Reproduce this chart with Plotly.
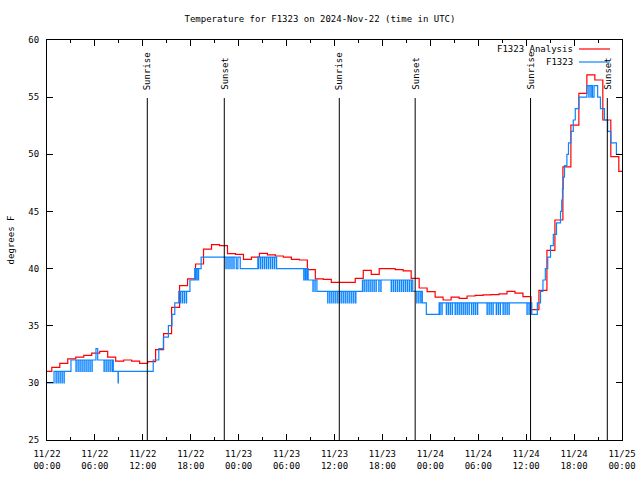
import plotly.graph_objects as go

TITLE = "Temperature for F1323 on 2024-Nov-22 (time in UTC)"
Y_TITLE = "degrees F"

# x axis: hours since 2024-11-22 00:00 UTC
tick_hours = [0, 6, 12, 18, 24, 30, 36, 42, 48, 54, 60, 66, 72]
tick_labels = ["11/22<br>00:00", "11/22<br>06:00", "11/22<br>12:00", "11/22<br>18:00",
               "11/23<br>00:00", "11/23<br>06:00", "11/23<br>12:00", "11/23<br>18:00",
               "11/24<br>00:00", "11/24<br>06:00", "11/24<br>12:00", "11/24<br>18:00",
               "11/25<br>00:00"]

# Sunrise / sunset times (hours)
sun_hours = [12.56, 22.2, 36.6, 46.1, 60.55, 70.16]
sun_labels = ["Sunrise", "Sunset", "Sunrise", "Sunset", "Sunrise", "Sunset"]

# F1323 Analysis: hourly values, first value valid from 23:36 on 11/21
analysis_first_hour = -0.4
analysis_values = [
    31.0, 31.35, 31.7, 32.1, 32.25, 32.4, 32.6, 32.75, 32.25, 31.9,
    32.0, 31.9, 31.7, 31.85, 32.9, 34.3, 36.6, 38.5, 39.1, 40.4,
    41.7, 42.1, 42.0, 41.3, 41.25, 40.8, 41.0, 41.33, 41.2, 41.1,
    41.0, 40.8, 40.75, 39.9, 39.1, 39.05, 38.8, 38.8, 38.8, 39.15,
    39.85, 39.5, 40.0, 40.0, 39.9, 39.8, 39.15, 38.3, 37.98, 37.5,
    37.25, 37.5, 37.4, 37.6, 37.65, 37.7, 37.72, 37.78, 38.0, 37.85,
    37.55, 36.4, 38.1, 41.6, 44.25, 48.9, 52.56, 55.33, 56.94, 56.5,
    53.0, 49.8, 48.5, 48.5,
]

# F1323 observations: level changes (hour, degF)
obs_level_hours = [0.0, 0.88, 3.0, 6.13, 6.35, 8.3, 13.3, 14.0, 14.57, 15.2,
                   15.65, 16.0, 16.5, 17.9, 18.5, 19.3, 23.7, 23.9, 24.2, 26.4,
                   28.75, 32.7, 33.8, 39.5, 45.8, 47.0, 47.5, 49.1, 60.7, 61.4,
                   61.8, 62.1, 62.4, 62.7, 63.05, 63.4, 63.8, 64.3, 64.45, 64.55,
                   64.65, 64.8, 65.1, 65.3, 65.6, 65.9, 66.15, 66.6, 67.6, 68.3,
                   68.5, 68.95, 69.3, 69.8, 70.2, 70.6, 71.3, 71.7]
obs_level_values = [30, 31, 32, 33, 32, 31, 32, 33, 34, 35,
                    36, 37, 38, 39, 40, 41, 40, 41, 40, 41,
                    40, 39, 38, 39, 38, 37, 36, 37, 36, 37,
                    38, 39, 40, 41, 42, 43, 44, 45, 46, 47,
                    48, 49, 50, 51, 52, 53, 54, 55, 56, 55,
                    56, 55, 54, 53, 52, 51, 50, 50]

# single-reading dips (hour, degF)
obs_dip_hours = [
    1.13, 1.38, 1.63, 1.88, 2.13,
    3.63, 3.88, 4.13, 4.38, 4.63, 4.88, 5.13, 5.38, 5.63,
    7.14, 7.39, 7.64, 7.89, 8.14,
    8.9,
    16.7, 16.95, 17.2, 17.45,
    18.55, 18.75, 18.95,
    22.4, 22.65, 22.9, 23.15, 23.4,
    26.5, 26.75, 27.0, 27.25, 27.5, 27.75, 28.0, 28.25, 28.5,
    32.15, 32.35, 32.55,
    33.3, 33.55,
    35.15, 35.4, 35.65, 35.9, 36.15, 36.4, 36.65, 36.9, 37.15, 37.4, 37.65, 37.9, 38.15, 38.4, 38.65,
    39.7, 39.95, 40.2, 40.45, 40.7, 40.95, 41.2,
    41.55, 41.8,
    43.1, 43.35, 43.6, 43.85, 44.1, 44.35, 44.6, 44.85, 45.1, 45.35, 45.6,
    46.3, 46.55, 46.8,
    49.2, 49.45,
    50.0, 50.25, 50.5, 50.75,
    51.1, 51.35, 51.6, 51.85,
    52.1, 52.35, 52.6, 52.85,
    53.15, 53.4, 53.65, 53.9,
    55.1, 55.35, 55.6, 55.85,
    56.25, 56.5, 56.75,
    57.1, 57.35, 57.6, 57.85,
    60.1, 60.35, 60.6,
    67.85, 68.1,
]
obs_dip_values = (
    [30] * 5 + [31] * 9 + [31] * 5 + [30] + [37] * 4 + [39] * 3 + [40] * 5 + [40] * 9
    + [39] * 3 + [38] * 2 + [37] * 15 + [38] * 7 + [38] * 2 + [38] * 11 + [37] * 3
    + [36] * 2 + [36] * 4 + [36] * 4 + [36] * 4 + [36] * 4 + [36] * 4 + [36] * 3 + [36] * 4
    + [36] * 3 + [55] * 2
)
reading_interval_h = 0.03

RED = "#ff0000"
BLUE = "#0a84ff"
FONT = "DejaVu Sans Mono"
FS = 9

# ---- build series ----
analysis_hours = [analysis_first_hour + i for i in range(len(analysis_values))]


def level_at(t):
    v = obs_level_values[0]
    for h, lv in zip(obs_level_hours, obs_level_values):
        if h <= t:
            v = lv
    return v


events = list(zip(obs_level_hours, obs_level_values))
for t, d in zip(obs_dip_hours, obs_dip_values):
    events.append((t, d))
    events.append((t + reading_interval_h, level_at(t)))
events.sort(key=lambda e: e[0])
obs_x = [e[0] for e in events]
obs_y = [e[1] for e in events]

fig = go.Figure()
fig.add_trace(go.Scatter(x=analysis_hours, y=analysis_values, mode="lines",
                         line=dict(color=RED, width=1.2, shape="hv"),
                         name="F1323 Analysis"))
fig.add_trace(go.Scatter(x=obs_x, y=obs_y, mode="lines",
                         line=dict(color=BLUE, width=1.2, shape="hv"),
                         name="F1323"))

# sunrise / sunset lines
line_top = (440 - 98) / 400
for h, lab in zip(sun_hours, sun_labels):
    fig.add_shape(type="line", xref="x", yref="paper", x0=h, x1=h, y0=0, y1=line_top,
                  line=dict(color="black", width=1))
    fig.add_annotation(x=h, xref="x", y=(440 - 92) / 400, yref="paper", text=lab,
                       textangle=-90, showarrow=False, xanchor="center", yanchor="bottom",
                       font=dict(family=FONT, size=FS, color="black"))

# custom legend (text right-aligned, sample on the right)
leg_entries = [("F1323 Analysis", RED, 49), ("F1323", BLUE, 62)]
for text, col, py in leg_entries:
    yp = (440 - py) / 400
    fig.add_annotation(x=(575 - 47) / 575, xref="paper", y=yp, yref="paper", text=text,
                       showarrow=False, xanchor="right", yanchor="middle",
                       font=dict(family=FONT, size=FS, color="black"))
    fig.add_shape(type="line", xref="paper", yref="paper", x0=(579 - 47) / 575,
                  x1=(610 - 47) / 575, y0=yp, y1=yp, line=dict(color=col, width=1.2))

fig.update_layout(
    width=640, height=480,
    margin=dict(l=47, r=18, t=40, b=40, autoexpand=False),
    paper_bgcolor="white", plot_bgcolor="white",
    showlegend=False,
    font=dict(family=FONT, size=FS, color="black"),
    title=dict(text=TITLE, x=0.5, xref="container", y=1 - 19 / 480, yref="container",
               yanchor="middle", xanchor="center",
               font=dict(family=FONT, size=FS, color="black")),
)
fig.update_xaxes(range=[0, 72], tickmode="array", tickvals=tick_hours, ticktext=tick_labels,
                 ticks="inside", ticklen=6, tickcolor="black", showline=True, linecolor="black",
                 linewidth=1, mirror="ticks", showgrid=False, zeroline=False, automargin=False,
                 ticklabelstandoff=5,
                 minor=dict(ticks="inside", dtick=3, tick0=0, ticklen=3, tickcolor="black",
                            showgrid=False),
                 tickfont=dict(family=FONT, size=FS, color="black"))
fig.update_yaxes(range=[25, 60], tickmode="linear", tick0=25, dtick=5,
                 ticks="inside", ticklen=6, tickcolor="black", showline=True, linecolor="black",
                 linewidth=1, mirror="ticks", showgrid=False, zeroline=False, automargin=False,
                 ticklabelstandoff=5,
                 title=dict(text=Y_TITLE, standoff=12,
                            font=dict(family=FONT, size=FS, color="black")),
                 tickfont=dict(family=FONT, size=FS, color="black"))

fig.write_html("out.html", config={"displayModeBar": False},
               post_script="document.body.style.margin='0';")
